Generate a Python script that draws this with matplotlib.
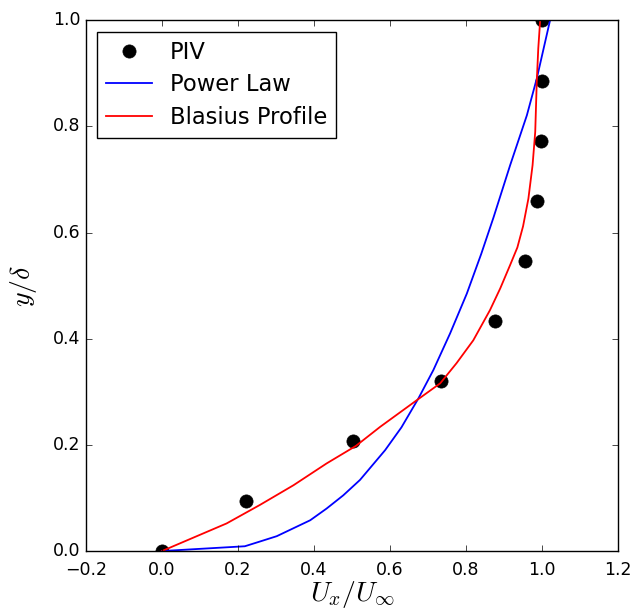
import matplotlib
matplotlib.use("Agg")
import matplotlib.pyplot as plt

plt.style.use("classic")

# PIV measurements
piv_x = [0.0, 0.22, 0.503, 0.734, 0.876, 0.955, 0.987, 0.998, 1.0, 0.999]
piv_y = [0.0, 0.094, 0.207, 0.32, 0.433, 0.546, 0.659, 0.772, 0.886, 1.0]

# Power law profile
power_x = [0.0, 0.218, 0.258, 0.302, 0.346, 0.39, 0.433, 0.477, 0.521, 0.587, 0.63,
           0.675, 0.714, 0.758, 0.802, 0.84, 0.872, 0.916, 0.96, 0.986, 1.021]
power_y = [0.0, 0.009, 0.018, 0.028, 0.043, 0.058, 0.08, 0.105, 0.134, 0.19, 0.233,
           0.288, 0.341, 0.41, 0.485, 0.56, 0.628, 0.727, 0.821, 0.89, 1.0]

# Blasius profile
blasius_x = [0.0, 0.17, 0.258, 0.346, 0.433, 0.51, 0.574, 0.67, 0.732, 0.775, 0.819,
             0.863, 0.89, 0.916, 0.935, 0.95, 0.964, 0.975, 0.982, 0.986, 0.99, 0.995]
blasius_y = [0.0, 0.052, 0.087, 0.124, 0.165, 0.198, 0.234, 0.284, 0.316, 0.354, 0.397,
             0.454, 0.495, 0.539, 0.572, 0.612, 0.664, 0.727, 0.79, 0.884, 0.947, 1.0]

fig = plt.figure(figsize=(6.32, 6.15), dpi=100, facecolor="white")
ax = fig.add_axes([0.136, 0.104, 0.842, 0.863])

ax.plot(piv_x, piv_y, "ko", markersize=9.5, label="PIV")
ax.plot(power_x, power_y, "b-", lw=1.3, label="Power Law")
ax.plot(blasius_x, blasius_y, "r-", lw=1.3, label="Blasius Profile")

ax.set_xlim(-0.2, 1.2)
ax.set_ylim(0.0, 1.0)
ax.set_xticks([-0.2, 0.0, 0.2, 0.4, 0.6, 0.8, 1.0, 1.2])
ax.set_yticks([0.0, 0.2, 0.4, 0.6, 0.8, 1.0])
ax.tick_params(labelsize=12.5)
ax.tick_params(axis="x", pad=7)
ax.set_xlabel(r"$U_x/U_\infty$", fontsize=20, labelpad=0)
ax.set_ylabel(r"$y/\delta$", fontsize=20, labelpad=10)

ax.legend(loc="upper left", numpoints=1, fontsize=16.3, labelspacing=0.42, frameon=True)

fig.savefig("out.png", dpi=100, facecolor="white")
